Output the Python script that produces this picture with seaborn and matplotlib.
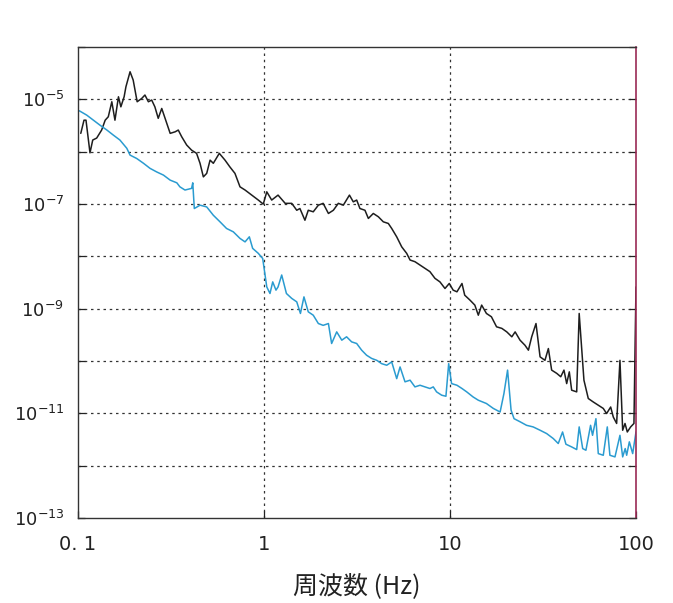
import numpy as np
import pandas as pd
import seaborn as sns
import matplotlib.pyplot as plt
import matplotlib.ticker as ticker

# black trace (upper)
black_freq = [0.1035, 0.1077, 0.1104, 0.116, 0.120, 0.126, 0.134, 0.140, 0.1455, 0.152,
              0.158, 0.165, 0.170, 0.177, 0.181, 0.1905, 0.198, 0.208, 0.220, 0.229,
              0.239, 0.249, 0.259, 0.270, 0.282, 0.300, 0.313, 0.333, 0.346, 0.361,
              0.384, 0.408, 0.434, 0.453, 0.472, 0.492, 0.513, 0.534, 0.575, 0.617,
              0.656, 0.698, 0.743, 0.791, 0.859, 0.932, 0.991, 1.035, 1.10, 1.19,
              1.30, 1.41, 1.50, 1.56, 1.66, 1.73, 1.84, 1.96, 2.08, 2.22,
              2.36, 2.51, 2.67, 2.88, 3.02, 3.15, 3.28, 3.49, 3.64, 3.87,
              4.12, 4.38, 4.66, 4.86, 5.17, 5.50, 5.85, 6.10, 6.48, 6.90,
              7.34, 7.80, 8.30, 8.83, 9.40, 9.91, 10.4, 10.9, 11.6, 12.0,
              12.8, 13.6, 14.2, 14.8, 15.7, 16.7, 17.8, 19.0, 20.2, 21.5,
              22.4, 23.8, 25.3, 26.4, 27.5, 29.0, 30.5, 32.4, 33.8, 35.2,
              37.5, 39.4, 41.0, 42.4, 43.8, 45.1, 48.0, 49.5, 52.5, 55.4,
              58.9, 62.7, 66.7, 69.5, 73.1, 75.5, 78.7, 82.0, 84.8, 87.3,
              89.8, 93.6, 97.5, 100.0]
black_psd = [2.24e-6, 4.0e-6, 4.0e-6, 9.5e-7, 1.67e-6, 1.82e-6, 2.59e-6, 4.0e-6, 4.65e-6, 9.0e-6,
             4.0e-6, 1.12e-5, 7.2e-6, 1.12e-5, 1.74e-5, 3.37e-5, 2.34e-5, 9.0e-6, 1.04e-5, 1.21e-5,
             9.0e-6, 9.7e-6, 7.2e-6, 4.34e-6, 6.7e-6, 3.48e-6, 2.24e-6, 2.4e-6, 2.59e-6, 1.93e-6,
             1.34e-6, 1.07e-6, 9.3e-7, 6.0e-7, 3.3e-7, 3.85e-7, 6.9e-7, 6.0e-7, 9.3e-7, 6.9e-7,
             5.1e-7, 3.85e-7, 2.13e-7, 1.85e-7, 1.48e-7, 1.19e-7, 9.96e-8, 1.71e-7, 1.19e-7, 1.48e-7,
             1.03e-7, 1.03e-7, 7.6e-8, 8.2e-8, 4.9e-8, 7.6e-8, 7.1e-8, 9.5e-8, 1.03e-7, 6.6e-8,
             7.6e-8, 1.03e-7, 9.5e-8, 1.48e-7, 1.10e-7, 1.19e-7, 8.2e-8, 7.6e-8, 5.3e-8, 6.6e-8,
             5.7e-8, 4.57e-8, 4.25e-8, 3.41e-8, 2.36e-8, 1.52e-8, 1.14e-8, 8.5e-9, 7.9e-9, 6.8e-9,
             5.9e-9, 5.1e-9, 3.8e-9, 3.25e-9, 2.43e-9, 3.03e-9, 2.26e-9, 2.1e-9, 3.03e-9, 1.81e-9,
             1.46e-9, 1.17e-9, 7.5e-10, 1.17e-9, 8.1e-10, 7.0e-10, 4.5e-10, 4.2e-10, 3.6e-10, 2.9e-10,
             3.6e-10, 2.5e-10, 2.0e-10, 1.61e-10, 2.9e-10, 5.2e-10, 1.2e-10, 1.03e-10, 1.73e-10, 6.7e-11,
             5.8e-11, 5.0e-11, 6.7e-11, 3.7e-11, 6.2e-11, 2.77e-11, 2.57e-11, 8.1e-10, 4.3e-11, 1.92e-11,
             1.65e-11, 1.43e-11, 1.24e-11, 9.9e-12, 1.32e-11, 8.5e-12, 6.4e-12, 1.03e-10, 4.75e-12, 6.4e-12,
             4.4e-12, 5.5e-12, 6.4e-12, 2.6e-9]

# blue trace (lower)
blue_freq = [0.1016, 0.1114, 0.121, 0.131, 0.143, 0.155, 0.168, 0.183, 0.1905, 0.207,
             0.225, 0.244, 0.265, 0.288, 0.313, 0.340, 0.353, 0.376, 0.408, 0.414,
             0.422, 0.453, 0.492, 0.534, 0.580, 0.629, 0.684, 0.743, 0.791, 0.834,
             0.869, 0.932, 0.984, 1.035, 1.077, 1.114, 1.16, 1.19, 1.245, 1.32,
             1.41, 1.50, 1.57, 1.64, 1.73, 1.84, 1.96, 2.08, 2.22, 2.31,
             2.46, 2.62, 2.78, 2.96, 3.15, 3.35, 3.56, 3.79, 4.04, 4.29,
             4.57, 4.86, 5.17, 5.39, 5.73, 6.10, 6.48, 6.90, 7.34, 7.80,
             8.13, 8.47, 9.02, 9.51, 9.84, 10.2, 10.9, 11.6, 12.3, 13.3,
             14.2, 15.7, 17.1, 18.6, 19.5, 20.4, 21.3, 22.1, 23.8, 25.8,
             28.0, 30.5, 33.1, 35.9, 38.2, 40.3, 42.0, 45.1, 48.0, 49.5,
             51.7, 53.8, 57.0, 58.4, 60.9, 62.7, 66.7, 70.1, 72.4, 77.1,
             82.0, 84.8, 87.5, 89.1, 92.1, 96.0, 100.0]
blue_psd = [6.05e-6, 5.0e-6, 4.0e-6, 3.23e-6, 2.59e-6, 2.07e-6, 1.67e-6, 1.16e-6, 8.6e-7, 7.4e-7,
            6.0e-7, 4.8e-7, 4.1e-7, 3.57e-7, 2.86e-7, 2.54e-7, 2.13e-7, 1.85e-7, 1.99e-7, 2.54e-7,
            8.2e-8, 9.5e-8, 8.8e-8, 6.1e-8, 4.57e-8, 3.41e-8, 2.94e-8, 2.2e-8, 1.89e-8, 2.36e-8,
            1.42e-8, 1.14e-8, 9.1e-9, 2.6e-9, 1.95e-9, 3.25e-9, 2.26e-9, 2.6e-9, 4.4e-9, 1.95e-9,
            1.57e-9, 1.35e-9, 8.1e-10, 1.68e-9, 8.7e-10, 7.5e-10, 5.2e-10, 4.8e-10, 5.2e-10, 2.16e-10,
            3.6e-10, 2.5e-10, 2.9e-10, 2.32e-10, 2.16e-10, 1.61e-10, 1.29e-10, 1.12e-10, 1.03e-10, 8.9e-11,
            8.3e-11, 9.6e-11, 4.6e-11, 7.7e-11, 4.0e-11, 4.3e-11, 3.2e-11, 3.44e-11, 3.2e-11, 2.98e-11,
            3.2e-11, 2.57e-11, 2.22e-11, 2.12e-11, 8.9e-11, 3.7e-11, 3.44e-11, 2.98e-11, 2.57e-11, 2.06e-11,
            1.78e-11, 1.54e-11, 1.24e-11, 1.06e-11, 2.39e-11, 6.7e-11, 1.15e-11, 7.9e-12, 6.9e-12, 5.9e-12,
            5.5e-12, 4.75e-12, 4.1e-12, 3.3e-12, 2.65e-12, 4.4e-12, 2.57e-12, 2.28e-12, 2.03e-12, 5.5e-12,
            2.12e-12, 1.97e-12, 5.9e-12, 3.8e-12, 7.9e-12, 1.7e-12, 1.58e-12, 5.5e-12, 1.58e-12, 1.47e-12,
            3.8e-12, 1.47e-12, 2.12e-12, 1.58e-12, 2.85e-12, 1.7e-12, 4.4e-12]

x_ticks = [0.1, 1, 10, 100]
x_ticklabels = ["0. 1", "1", "10", "100"]
y_label_exps = [-5, -7, -9, -11, -13]

df = pd.concat([
    pd.DataFrame({"freq": black_freq, "psd": black_psd, "trace": "black"}),
    pd.DataFrame({"freq": blue_freq, "psd": blue_psd, "trace": "blue"}),
], ignore_index=True)

sns.set_style("ticks")
plt.rcParams["font.family"] = ["DejaVu Sans"]

fig = plt.figure(figsize=(6.73, 6.03), dpi=100)
ax = fig.add_axes([0.1159, 0.141, 0.8291, 0.781])

sns.lineplot(data=df, x="freq", y="psd", hue="trace",
             palette={"black": "#1e1e1e", "blue": "#2a9bd0"},
             estimator=None, sort=False, linewidth=1.1, legend=False, ax=ax)

ax.set_xscale("log")
ax.set_yscale("log")
ax.set_xlim(0.1, 100)
ax.set_ylim(1e-13, 1e-4)

# dotted grid at every decade
for e in range(-12, -4):
    ax.axhline(10.0 ** e, color="#333333", linestyle=(0, (2, 3)), linewidth=0.9, zorder=0)
for xv in [1, 10]:
    ax.axvline(xv, color="#333333", linestyle=(0, (2, 3)), linewidth=0.9, zorder=0)

ax.xaxis.set_major_locator(ticker.FixedLocator(x_ticks))
ax.xaxis.set_minor_locator(ticker.NullLocator())
ax.set_xticklabels(x_ticklabels)

ax.yaxis.set_major_locator(ticker.FixedLocator([10.0 ** e for e in range(-13, -3)]))
ax.yaxis.set_minor_locator(ticker.NullLocator())
ylabels = []
for e in range(-13, -3):
    ylabels.append("10$^{%d}$" % e if e in y_label_exps else "")
ax.set_yticklabels(ylabels)

ax.tick_params(axis="both", direction="in", length=5, width=0.9, colors="#222222",
               labelsize=13, right=True)
ax.tick_params(axis="x", pad=12, labelsize=14)
ax.tick_params(axis="y", pad=10)

for side in ["left", "top", "bottom"]:
    ax.spines[side].set_color("#333333")
    ax.spines[side].set_linewidth(1.0)
ax.spines["right"].set_visible(True)
ax.spines["top"].set_visible(True)
ax.spines["right"].set_color("#9a2a55")
ax.spines["right"].set_linewidth(1.2)

ax.set_ylabel("")
ax.set_xlabel("周波数 (Hz)", fontsize=18, labelpad=14,
              family=["Noto Sans CJK JP", "DejaVu Sans"], color="#222222")

plt.savefig("out.png", dpi=100)
